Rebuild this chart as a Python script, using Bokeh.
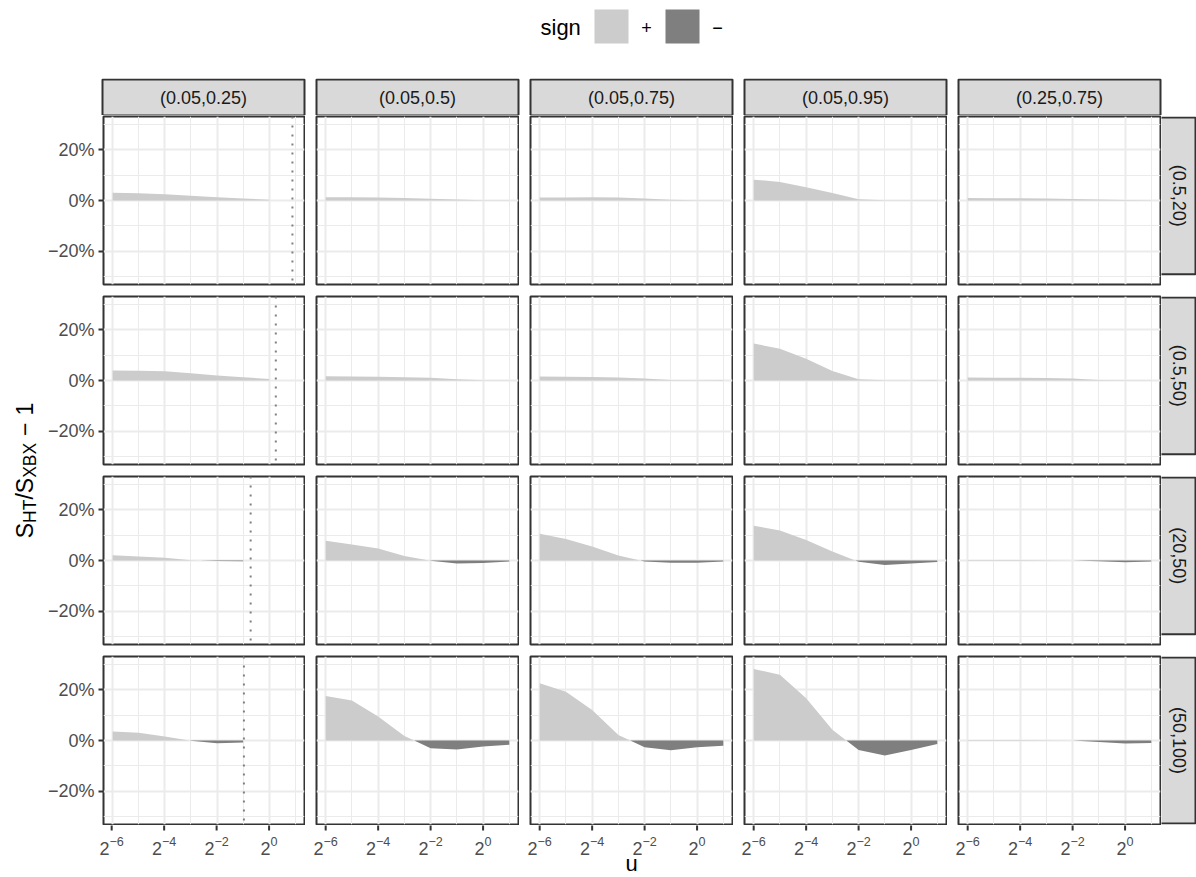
import math
from bokeh.plotting import figure
from bokeh.models import Range1d, FixedTicker, CustomJSTickFormatter, Span, Spacer
from bokeh.layouts import column, row
from bokeh.embed import file_html
from bokeh.resources import INLINE
from bokeh.core.properties import value

# ---------------- data ----------------
u_values = [0.015625, 0.03125, 0.0625, 0.125, 0.25, 0.5, 1.0, 2.0]
col_labels = ["(0.05,0.25)", "(0.05,0.5)", "(0.05,0.75)", "(0.05,0.95)", "(0.25,0.75)"]
row_labels = ["(0.5,20)", "(0.5,50)", "(20,50)", "(50,100)"]

# S_HT / S_XBX - 1, one list per column (first column stops at the threshold)
rel_diff_row1 = [
    [0.030, 0.028, 0.025, 0.019, 0.013, 0.008, 0.003],
    [0.013, 0.013, 0.012, 0.010, 0.007, 0.004, 0.001, 0.0005],
    [0.012, 0.012, 0.013, 0.012, 0.008, 0.003, 0.001, 0.0005],
    [0.082, 0.073, 0.052, 0.029, 0.005, 0.001, 0.0005, 0.0005],
    [0.010, 0.009, 0.009, 0.008, 0.006, 0.004, 0.002, 0.001],
]
rel_diff_row2 = [
    [0.039, 0.038, 0.036, 0.028, 0.020, 0.013, 0.006],
    [0.017, 0.016, 0.015, 0.013, 0.011, 0.005, 0.001, 0.0005],
    [0.016, 0.015, 0.014, 0.012, 0.008, 0.002, 0.001, 0.002],
    [0.145, 0.125, 0.085, 0.037, 0.005, 0.001, 0.001, 0.002],
    [0.012, 0.011, 0.011, 0.010, 0.008, 0.002, 0.0005, 0.0005],
]
rel_diff_row3 = [
    [0.021, 0.016, 0.011, 0.001, -0.002, -0.003],
    [0.078, 0.063, 0.047, 0.018, -0.001, -0.012, -0.010, -0.004],
    [0.105, 0.084, 0.055, 0.020, -0.004, -0.009, -0.009, -0.004],
    [0.137, 0.118, 0.081, 0.035, -0.005, -0.018, -0.012, -0.006],
    [0.002, 0.002, 0.0015, 0.001, 0.0, -0.003, -0.007, -0.004],
]
rel_diff_row4 = [
    [0.035, 0.030, 0.016, -0.001, -0.011, -0.008],
    [0.175, 0.157, 0.094, 0.018, -0.030, -0.035, -0.024, -0.017],
    [0.225, 0.192, 0.120, 0.022, -0.027, -0.038, -0.027, -0.021],
    [0.281, 0.258, 0.166, 0.042, -0.037, -0.059, -0.037, -0.014],
    [0.002, 0.002, 0.002, 0.001, 0.0, -0.006, -0.012, -0.010],
]
rel_diff_rows = [rel_diff_row1, rel_diff_row2, rel_diff_row3, rel_diff_row4]

threshold_u = [1.85, 1.19, 0.61, 0.51]   # dotted lines, first column

x_major_ticks = [0.015625, 0.0625, 0.25, 1.0]
x_tick_exponents = ["\u22126", "\u22124", "\u22122", "0"]
x_minor_ticks = [0.03125, 0.125, 0.5, 2.0]
y_major_ticks = [-0.2, 0.0, 0.2]
y_minor_ticks = [-0.3, -0.1, 0.1, 0.3]
y_limits = [-0.3, 0.3]

sign_labels = ["+", "\u2212"]
sign_colors = ["#CCCCCC", "#7F7F7F"]

# ---------------- styling / layout ----------------
FONT = value("Liberation Sans")
GRID = "#EBEBEB"
DARK = "#333333"
STRIP_FILL = "#D9D9D9"
TICK_TXT = "#4D4D4D"

FRAME_W, FRAME_H = 202, 168
COL_STEP, ROW_STEP = 214, 180
YT_W = 44
COL1_BORDER = 58
TOTAL_W = 1196
LEG_H, STRIP_H = 78, 37
XLAB_H = 51

frame_left0 = YT_W + COL1_BORDER                 # 102
frame_top0 = LEG_H + STRIP_H + 1                 # 116
frame_lefts = [frame_left0 + COL_STEP * c for c in range(5)]
frame_tops = [frame_top0 + ROW_STEP * r for r in range(4)]
col_left_border = [COL1_BORDER] + [COL_STEP - FRAME_W - 1] * 4
right_strip_left = frame_lefts[-1] + FRAME_W + 1
right_strip_w = TOTAL_W - right_strip_left

lmin, lmax = math.log2(u_values[0]), math.log2(u_values[-1])
xpad = 0.05 * (lmax - lmin)
lo_l, hi_l = lmin - xpad, lmax + xpad
x_lo, x_hi = 2 ** lo_l, 2 ** hi_l
ypad = 0.05 * (y_limits[1] - y_limits[0])
y_lo, y_hi = y_limits[0] - ypad, y_limits[1] + ypad

Y_FMT = r"""
const v = Math.round(tick * 100);
return (v < 0 ? "\u2212" : "") + Math.abs(v) + "%";
"""

ADV = {"S": 0.667, "H": 0.722, "T": 0.611, "X": 0.667, "B": 0.667, "/": 0.278,
       "\u2212": 0.584, "0": 0.556, "1": 0.556, "2": 0.556, "4": 0.556, "6": 0.556}


def text_w(s, size):
    return sum(ADV[ch] for ch in s) * size


def aux_fig(w, h, x0, x1, y_top, y_bottom, x_axis_type="linear"):
    f = figure(width=w, height=h, x_range=Range1d(x0, x1), y_range=Range1d(y_bottom, y_top),
               x_axis_type=x_axis_type, x_axis_location=None, y_axis_location=None,
               title=None, tools="", toolbar_location=None, output_backend="svg",
               min_border=0)
    f.xgrid.visible = False
    f.ygrid.visible = False
    f.outline_line_color = None
    return f


def augment(xs, ys):
    ax, ay = [xs[0]], [ys[0]]
    for i in range(1, len(ys)):
        y0, y1 = ys[i - 1], ys[i]
        if y0 * y1 < 0:
            l0, l1 = math.log2(xs[i - 1]), math.log2(xs[i])
            t = y0 / (y0 - y1)
            ax.append(2 ** (l0 + t * (l1 - l0)))
            ay.append(0.0)
        ax.append(xs[i])
        ay.append(ys[i])
    return ax, ay


def make_panel(r, c):
    left = col_left_border[c]
    bottom = 1 if r == 3 else ROW_STEP - FRAME_H - 1
    w = left + FRAME_W + 1
    h = 1 + FRAME_H + bottom
    p = figure(width=w, height=h, x_axis_type="log",
               x_range=Range1d(x_lo, x_hi), y_range=Range1d(y_lo, y_hi),
               x_axis_location=None,
               y_axis_location=("left" if c == 0 else None),
               title=None, tools="", toolbar_location=None, output_backend="svg",
               min_border_left=left, min_border_right=1, min_border_top=1,
               min_border_bottom=bottom)
    p.xgrid.ticker = FixedTicker(ticks=x_major_ticks, minor_ticks=x_minor_ticks)
    p.ygrid.ticker = FixedTicker(ticks=y_major_ticks, minor_ticks=y_minor_ticks)
    for g in (p.xgrid, p.ygrid):
        g.grid_line_color = GRID
        g.grid_line_width = 2
        g.minor_grid_line_color = GRID
        g.minor_grid_line_width = 1
    p.outline_line_color = DARK
    p.outline_line_width = 2
    p.outline_line_alpha = 1.0

    if c == 0:
        a = p.yaxis[0]
        a.ticker = FixedTicker(ticks=y_major_ticks, minor_ticks=[])
        a.formatter = CustomJSTickFormatter(code=Y_FMT)
        a.axis_line_color = None
        a.major_tick_line_color = DARK
        a.major_tick_line_width = 2
        a.major_tick_out = 5
        a.major_tick_in = 0
        a.minor_tick_line_color = None
        a.major_label_text_font = "Liberation Sans"
        a.major_label_text_font_size = "18px"
        a.major_label_text_color = TICK_TXT
        a.major_label_standoff = 4

    ys = rel_diff_rows[r][c]
    xs = u_values[:len(ys)]
    axx, ayy = augment(xs, ys)
    pos = [max(v, 0.0) for v in ayy]
    neg = [min(v, 0.0) for v in ayy]
    zero = [0.0] * len(ayy)
    p.varea(x=axx, y1=zero, y2=pos, fill_color=sign_colors[0], fill_alpha=1.0)
    p.varea(x=axx, y1=zero, y2=neg, fill_color=sign_colors[1], fill_alpha=1.0)

    if c == 0:
        p.add_layout(Span(location=threshold_u[r], dimension="height", line_color="#808080",
                          line_width=2, line_dash="2 7"))
    return p, h


# ---------------- legend ----------------
leg = aux_fig(TOTAL_W, LEG_H, 0, TOTAL_W, 0, LEG_H)
leg.text(x=[540], y=[27], text=["sign"], text_font=FONT, text_font_size=value("22px"),
         text_color="#000000", text_align="left", text_baseline="middle")
key_left = [594, 665]
leg.quad(left=key_left, right=[k + 34 for k in key_left], top=[9, 9], bottom=[43, 43],
         fill_color=sign_colors, line_color=None)
leg.text(x=[k + 52 for k in key_left], y=[27, 27], text=sign_labels, text_font=FONT,
         text_font_size=value("18px"), text_color="#000000", text_align="center",
         text_baseline="middle")

# ---------------- top strips ----------------
strip = aux_fig(TOTAL_W, STRIP_H, 0, TOTAL_W, LEG_H, LEG_H + STRIP_H)
s_top = LEG_H + 1
s_bot = LEG_H + STRIP_H
strip.quad(left=frame_lefts, right=[l + FRAME_W for l in frame_lefts],
           top=[s_top] * 5, bottom=[s_bot] * 5, fill_color=STRIP_FILL, line_color=None)
strip.multi_line(xs=[[l, l, l + FRAME_W, l + FRAME_W, l] for l in frame_lefts],
                 ys=[[s_bot, s_top, s_top, s_bot, s_bot]] * 5, line_color=DARK, line_width=2)
strip.text(x=[l + FRAME_W / 2 for l in frame_lefts], y=[(s_top + frame_top0) / 2] * 5,
           text=col_labels, text_font=FONT, text_font_size=value("18px"),
           text_color="#1A1A1A", text_align="center", text_baseline="middle")

# ---------------- panel rows ----------------
row_layouts = []
row_heights = []
for r in range(4):
    figs = []
    h = None
    for c in range(5):
        p, h = make_panel(r, c)
        figs.append(p)
    fig_top = frame_tops[r] - 1
    rs = aux_fig(right_strip_w, h, right_strip_left, right_strip_left + right_strip_w,
                 fig_top, fig_top + h)
    ft, fb = frame_tops[r], frame_tops[r] + FRAME_H
    rx1 = right_strip_left + right_strip_w - 1
    rs.quad(left=[right_strip_left - 1], right=[rx1], top=[ft], bottom=[fb],
            fill_color=STRIP_FILL, line_color=None)
    rs.multi_line(xs=[[right_strip_left - 1, rx1, rx1, right_strip_left - 1]],
                  ys=[[ft, ft, fb, fb]], line_color=DARK, line_width=2)
    rs.text(x=[(right_strip_left + rx1) / 2], y=[(ft + fb) / 2], text=[row_labels[r]],
            angle=-math.pi / 2, text_font=FONT, text_font_size=value("18px"),
            text_color="#1A1A1A", text_align="center", text_baseline="middle")
    figs.append(rs)
    row_layouts.append(row(*figs))
    row_heights.append(h)

# ---------------- x tick labels + x title (log scale shared with panels) ----------------
xlab_top = frame_tops[3] + FRAME_H + 1
k = (hi_l - lo_l) / FRAME_W
MAIN_SZ, SUP_SZ = 18, 12.6
xlab_figs = []
for c in range(5):
    lb = col_left_border[c]
    w = lb + FRAME_W + 1
    rng_lo = 2 ** (lo_l - k * lb)
    rng_hi = 2 ** (hi_l + k * 1)
    f = aux_fig(w, XLAB_H, rng_lo, rng_hi, xlab_top, xlab_top + XLAB_H, x_axis_type="log")
    f.segment(x0=x_major_ticks, x1=x_major_ticks, y0=[xlab_top - 1] * 4,
              y1=[xlab_top + 5] * 4, line_color=DARK, line_width=2)
    base_w = text_w("2", MAIN_SZ)
    sup_w = [text_w(e, SUP_SZ) for e in x_tick_exponents]
    tot = [base_w + s for s in sup_w]
    f.text(x=x_major_ticks, y=[xlab_top + 23] * 4, text=["2"] * 4,
           x_offset=[-t / 2 for t in tot], text_font=FONT, text_font_size=value("18px"),
           text_color=TICK_TXT, text_align="left", text_baseline="alphabetic")
    f.text(x=x_major_ticks, y=[xlab_top + 16] * 4, text=x_tick_exponents,
           x_offset=[-t / 2 + base_w for t in tot], text_font=FONT,
           text_font_size=value("12.6px"), text_color=TICK_TXT, text_align="left",
           text_baseline="alphabetic")
    if c == 2:
        f.text(x=[2 ** ((lo_l + hi_l) / 2)], y=[xlab_top + 38], text=["u"], text_font=FONT,
               text_font_size=value("22px"), text_color="#000000", text_align="center",
               text_baseline="middle")
    xlab_figs.append(f)
xlab_row = row(*xlab_figs, Spacer(width=right_strip_w, height=XLAB_H))

# ---------------- y title ----------------
grid_top = frame_tops[0] - 1
grid_h = sum(row_heights) + XLAB_H
yt = aux_fig(YT_W, grid_h, 0, YT_W, grid_top, grid_top + grid_h)
MT, ST = 23, 17.5
SP = 0.3
pieces = [("S", MT, False, 0), ("HT", ST, True, 0), ("/", MT, False, 0),
          ("S", MT, False, 0), ("XBX", ST, True, 0), ("\u2212", MT, False, SP),
          ("1", MT, False, SP)]
offs = []
cur = 0.0
for txt, sz, sub, gap in pieces:
    cur += gap * MT
    offs.append(cur)
    cur += text_w(txt, sz)
total_len = cur
center_y = (frame_tops[0] + frame_tops[3] + FRAME_H) / 2
start_y = center_y + total_len / 2
base_x = 32            # alphabetic baseline of the main text
for (txt, sz, sub, gap), o in zip(pieces, offs):
    bx = base_x + (4 if sub else 0)
    mid_x = bx - 0.3465 * sz
    yt.text(x=[mid_x], y=[start_y - o], text=[txt], angle=math.pi / 2,
            text_font=FONT, text_font_size=value(f"{sz}px"), text_color="#000000",
            text_align="left", text_baseline="middle")

layout = column(leg, strip, row(yt, column(*row_layouts, xlab_row)))
open("out.html", "w").write(file_html(layout, INLINE))
